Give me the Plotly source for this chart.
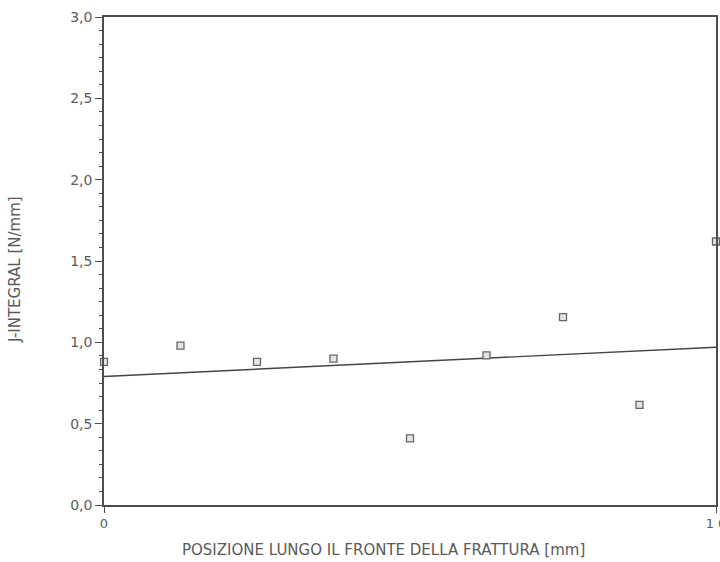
import plotly.graph_objects as go

# Data
positions = [0, 1.25, 2.5, 3.75, 5, 6.25, 7.5, 8.75, 10]
j_integral = [0.88, 0.98, 0.88, 0.90, 0.41, 0.92, 1.155, 0.615, 1.62]
trend_x = [0, 10]
trend_y = [0.79, 0.97]

y_ticks = [0.0, 0.5, 1.0, 1.5, 2.0, 2.5, 3.0]
x_ticks = [0, 10]

axis_col = "#4d4d4d"
text_col = "#5a5a5a"
font_family = "DejaVu Sans, Liberation Sans, Arial, sans-serif"

fig = go.Figure()
fig.add_trace(go.Scatter(
    x=trend_x, y=trend_y, mode="lines",
    line=dict(color="#444444", width=1.4),
    showlegend=False, hoverinfo="skip",
))
fig.add_trace(go.Scatter(
    x=positions, y=j_integral, mode="markers",
    marker=dict(symbol="square", size=7, color="#e4e4e4",
                line=dict(color="#666666", width=1.3)),
    showlegend=False, cliponaxis=False,
))

fig.update_layout(
    width=720, height=562,
    template="none",
    separators=",.",
    paper_bgcolor="white", plot_bgcolor="white",
    margin=dict(l=104, r=4, t=17, b=57),
    font=dict(family=font_family, size=14, color=text_col),
    xaxis=dict(
        range=[0, 10], tickvals=x_ticks, ticktext=["0", "1 0"],
        showgrid=False, zeroline=False, automargin=False,
        showline=True, linecolor=axis_col, linewidth=1.5, mirror=True,
        ticks="outside", ticklen=6, tickcolor=axis_col, tickwidth=1.3,
        tickfont=dict(size=13, color=text_col),
        ticklabeloverflow="allow",
    ),
    yaxis=dict(
        range=[0, 3.0], tickvals=y_ticks, tickformat=".1f",
        showgrid=False, zeroline=False, automargin=False,
        showline=True, linecolor=axis_col, linewidth=1.5, mirror=True,
        ticks="outside", ticklen=7, tickcolor=axis_col, tickwidth=1.3,
        tickfont=dict(size=14, color=text_col),
        minor=dict(dtick=0.5 / 6, ticks="outside", ticklen=3,
                   tickcolor=axis_col, tickwidth=1, showgrid=False),
    ),
    annotations=[
        dict(text="POSIZIONE LUNGO IL FRONTE DELLA FRATTURA [mm]",
             xref="paper", yref="paper", x=0.456, y=0, yshift=-45,
             xanchor="center", yanchor="middle", showarrow=False,
             font=dict(size=15, color=text_col)),
        dict(text="J-INTEGRAL [N/mm]", textangle=-90,
             xref="paper", yref="paper", x=0, y=0.5, xshift=-89, yshift=-9,
             xanchor="center", yanchor="middle", showarrow=False,
             font=dict(size=15, color=text_col)),
    ],
)

fig.write_html(
    "out.html",
    config={"displayModeBar": False},
    post_script="document.body.style.margin='0';document.body.style.overflow='hidden';",
)
